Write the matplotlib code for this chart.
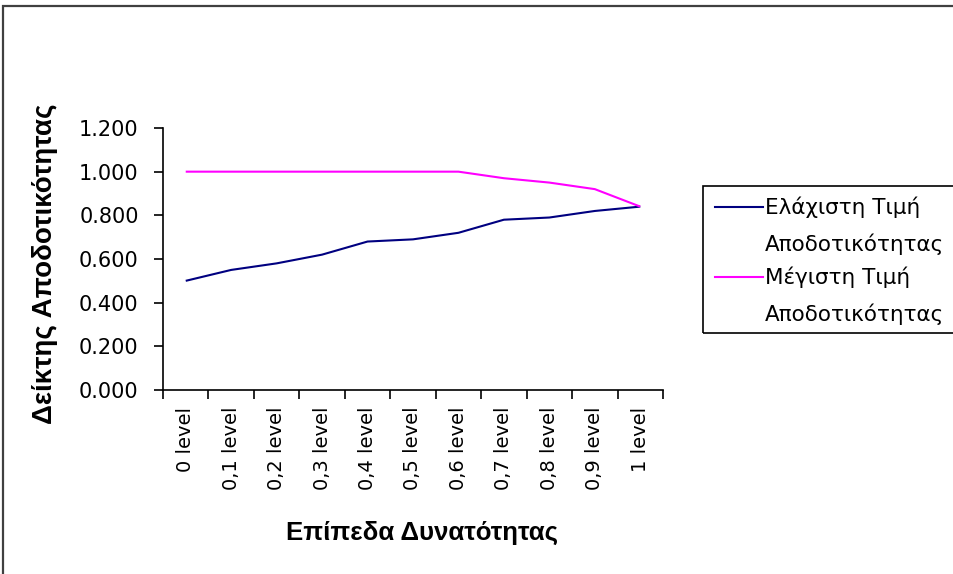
import matplotlib
matplotlib.use('Agg')
import matplotlib.pyplot as plt
from matplotlib.patches import Rectangle
from matplotlib.lines import Line2D
import numpy as np

LEVELS = ['0 level', '0,1 level', '0,2 level', '0,3 level', '0,4 level',
          '0,5 level', '0,6 level', '0,7 level', '0,8 level', '0,9 level',
          '1 level']
MIN_EFF = [0.50, 0.55, 0.58, 0.62, 0.68, 0.69, 0.72, 0.78, 0.79, 0.82, 0.84]
MAX_EFF = [1.00, 1.00, 1.00, 1.00, 1.00, 1.00, 1.00, 0.97, 0.95, 0.92, 0.84]
SERIES = [
    (('Ελάχιστη Τιμή', 'Αποδοτικότητας'), MIN_EFF, '#000080'),
    (('Μέγιστη Τιμή', 'Αποδοτικότητας'), MAX_EFF, '#ff00ff'),
]
YTICKS = [0.0, 0.2, 0.4, 0.6, 0.8, 1.0, 1.2]

W, H = 954, 574

def fx(px):
    return px / W

def fy(py):
    return 1 - py / H

plt.rcParams['font.family'] = ['DejaVu Sans']

fig = plt.figure(figsize=(W / 100, H / 100), dpi=100)
ax = fig.add_axes([fx(163), fy(390), fx(663) - fx(163), fy(128) - fy(390)])

x = np.arange(len(LEVELS))
for label, vals, color in SERIES:
    ax.plot(x, vals, color=color, lw=1.5, solid_capstyle='butt')

ax.set_xlim(-0.5, len(LEVELS) - 0.5)
ax.set_ylim(0, 1.2)
ax.set_yticks(YTICKS)
ax.set_yticklabels(['%.3f' % v for v in YTICKS], fontsize=15)
ax.set_xticks(x)
ax.set_xticklabels(LEVELS, rotation=90, fontsize=14)
ax.set_xticks(np.arange(-0.5, len(LEVELS)), minor=True)
ax.tick_params(axis='x', which='major', length=0, pad=12)
ax.tick_params(axis='x', which='minor', length=6.5, width=1.2, direction='out')
ax.tick_params(axis='y', length=6.5, width=1.2, pad=11, direction='out')

for side in ['top', 'right']:
    ax.spines[side].set_visible(False)
for side in ['left', 'bottom']:
    ax.spines[side].set_linewidth(1.2)

ax.set_ylabel('Δείκτης Αποδοτικότητας', fontsize=20, fontweight='bold',
              family='Liberation Sans')
ax.yaxis.set_label_coords(-0.21, 0.48)
ax.set_xlabel('Επίπεδα Δυνατότητας', fontsize=18.6, fontweight='bold',
              family='Liberation Sans')
ax.xaxis.set_label_coords(0.518, -0.5)

# legend box, drawn by hand so each handle sits on the first text line
fig.add_artist(Rectangle((fx(703), fy(333)), fx(980) - fx(703), fy(186) - fy(333),
                         transform=fig.transFigure, fill=False, lw=1.2,
                         edgecolor='black'))
for i, ((line1, line2), vals, color) in enumerate(SERIES):
    y0 = 207 + i * 70
    fig.add_artist(Line2D([fx(715), fx(763)], [fy(y0), fy(y0)],
                          transform=fig.transFigure, color=color, lw=1.5))
    fig.text(fx(765), fy(y0), line1, fontsize=15.5, va='center', ha='left')
    fig.text(fx(765), fy(y0 + 37), line2, fontsize=15.5, va='center', ha='left')

# outer chart frame
fig.add_artist(Rectangle((fx(3.5), fy(600)), fx(1000), fy(5.5) - fy(600),
                         transform=fig.transFigure, fill=False, lw=1.6,
                         edgecolor='#404040'))

fig.savefig('out.png', dpi=100)
